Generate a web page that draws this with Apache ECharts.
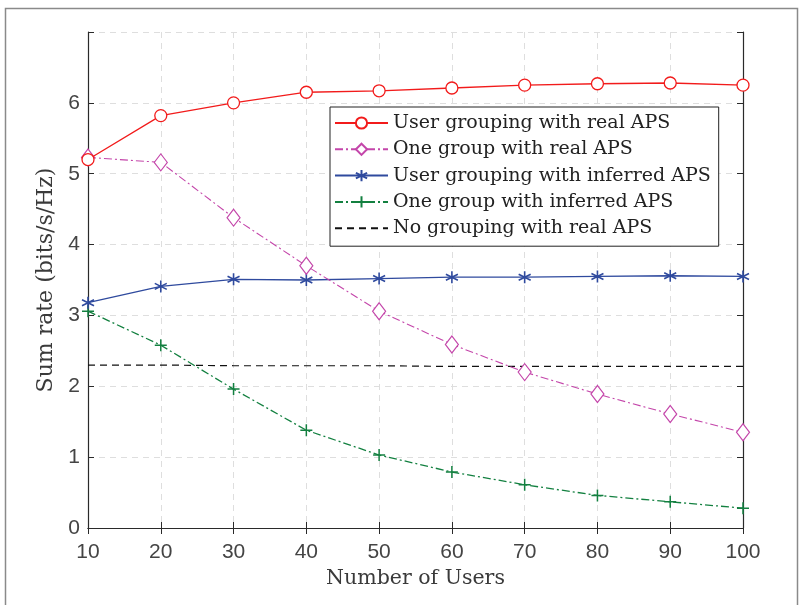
<!DOCTYPE html>
<html><head><meta charset="utf-8">
<script src="https://cdn.jsdelivr.net/npm/echarts@6/dist/echarts.min.js"></script>
<style>html,body{margin:0;padding:0;background:#fff}#c{width:804px;height:605px}</style>
</head><body><div id="c"></div>
<script>
const users = [10, 20, 30, 40, 50, 60, 70, 80, 90, 100];
const userGroupReal = [5.20, 5.82, 6.00, 6.15, 6.17, 6.21, 6.25, 6.27, 6.28, 6.25];
const oneGroupReal = [5.23, 5.16, 4.38, 3.70, 3.06, 2.59, 2.20, 1.89, 1.61, 1.35];
const userGroupInferred = [3.18, 3.41, 3.51, 3.50, 3.52, 3.54, 3.54, 3.55, 3.56, 3.55];
const oneGroupInferred = [3.06, 2.58, 1.96, 1.38, 1.03, 0.79, 0.61, 0.46, 0.37, 0.28];
const noGroupReal = [2.30, 2.30, 2.29, 2.29, 2.29, 2.28, 2.28, 2.28, 2.28, 2.28];
const seriesNames = ['User grouping with real APS','One group with real APS','User grouping with inferred APS','One group with inferred APS','No grouping with real APS'];
const yTicks = [0,1,2,3,4,5,6];

const pair = v => users.map((x,i)=>[x, v[i]]);
const asterisk = 'path://M5,0L5,10M0.7,2.5L9.3,7.5M0.7,7.5L9.3,2.5';
const plus = 'path://M5,0L5,10M0,5L10,5';
const serif = 'DejaVu Serif';
const chart = echarts.init(document.getElementById('c'));
const gridLine = {show:true, lineStyle:{color:'#dedede', type:[6,5], width:1}};
const legendData = seriesNames.map((n,i) => i === 4 ? {name:n, itemStyle:{opacity:0}} : {name:n});
chart.setOption({
  animation:false,
  graphic:[{type:'rect', shape:{x:5.5,y:8.5,width:792,height:620}, style:{fill:'none', stroke:'#8a8a8a', lineWidth:1.5}, z:-1}],
  grid:{left:88, right:61, top:32, bottom:77},
  xAxis:[{type:'value', min:10, max:100, interval:10,
    name:'Number of Users', nameLocation:'middle', nameGap:40,
    nameTextStyle:{fontFamily:serif, fontSize:20.5, color:'#3a3a3a'},
    axisLine:{lineStyle:{color:'#2a2a2a', width:1.2}},
    axisTick:{inside:true, length:6, lineStyle:{color:'#2a2a2a'}},
    axisLabel:{fontFamily:'Liberation Sans', fontSize:21, color:'#444', margin:14},
    splitLine:gridLine},
   {type:'value', position:'top', min:10, max:100, interval:10,
    axisLine:{show:true, lineStyle:{color:'#2a2a2a', width:1.2}},
    axisTick:{inside:true, length:6, lineStyle:{color:'#2a2a2a'}},
    axisLabel:{show:false}, splitLine:{show:false}}],
  yAxis:[{type:'value', min:0, max:7, interval:1,
    name:'Sum rate (bits/s/Hz)', nameLocation:'middle', nameGap:25,
    nameTextStyle:{fontFamily:serif, fontSize:22, color:'#3a3a3a'},
    axisLine:{show:true, lineStyle:{color:'#2a2a2a', width:1.2}},
    axisTick:{inside:true, length:6, lineStyle:{color:'#2a2a2a'}},
    axisLabel:{fontFamily:'Liberation Sans', fontSize:21, color:'#444', margin:8,
      formatter:v => yTicks.includes(v) ? String(v) : ''},
    splitLine:gridLine},
   {type:'value', position:'right', min:0, max:7, interval:1,
    axisLine:{show:true, lineStyle:{color:'#2a2a2a', width:1.2}},
    axisTick:{inside:true, length:6, lineStyle:{color:'#2a2a2a'}},
    axisLabel:{show:false}, splitLine:{show:false}}],
  legend:{orient:'vertical', left:330, top:107,
    backgroundColor:'#fff', borderColor:'#222', borderWidth:1, borderRadius:0,
    padding:[6,8,8,4], itemGap:6.3, itemWidth:53, itemHeight:14,
    textStyle:{fontFamily:serif, fontSize:19, lineHeight:20, color:'#222'},
    data:legendData},
  series:[
    {name:seriesNames[0], type:'line', data:pair(userGroupReal), symbol:'circle', symbolSize:12,
     lineStyle:{color:'#f21b1b', width:1.3}, itemStyle:{color:'#fff', borderColor:'#f21b1b', borderWidth:1.3}, z:5},
    {name:seriesNames[1], type:'line', data:pair(oneGroupReal), symbol:'diamond', symbolSize:[13,17],
     lineStyle:{color:'#c446aa', width:1.1, type:[8,3,2,3]}, itemStyle:{color:'#fff', borderColor:'#c446aa', borderWidth:1.2}, z:4},
    {name:seriesNames[2], type:'line', data:pair(userGroupInferred), symbol:asterisk, symbolSize:12,
     lineStyle:{color:'#2f4a9e', width:1.3}, itemStyle:{color:'none', borderColor:'#2f4a9e', borderWidth:1.6}, z:3},
    {name:seriesNames[3], type:'line', data:pair(oneGroupInferred), symbol:plus, symbolSize:12,
     lineStyle:{color:'#138040', width:1.3, type:[8,3,2,3]}, itemStyle:{color:'none', borderColor:'#138040', borderWidth:1.5}, z:2},
    {name:seriesNames[4], type:'line', data:pair(noGroupReal), symbol:'none',
     lineStyle:{color:'#111', width:1.2, type:[7,5]}, itemStyle:{color:'#111'}, z:1}
  ]
});
</script></body></html>
